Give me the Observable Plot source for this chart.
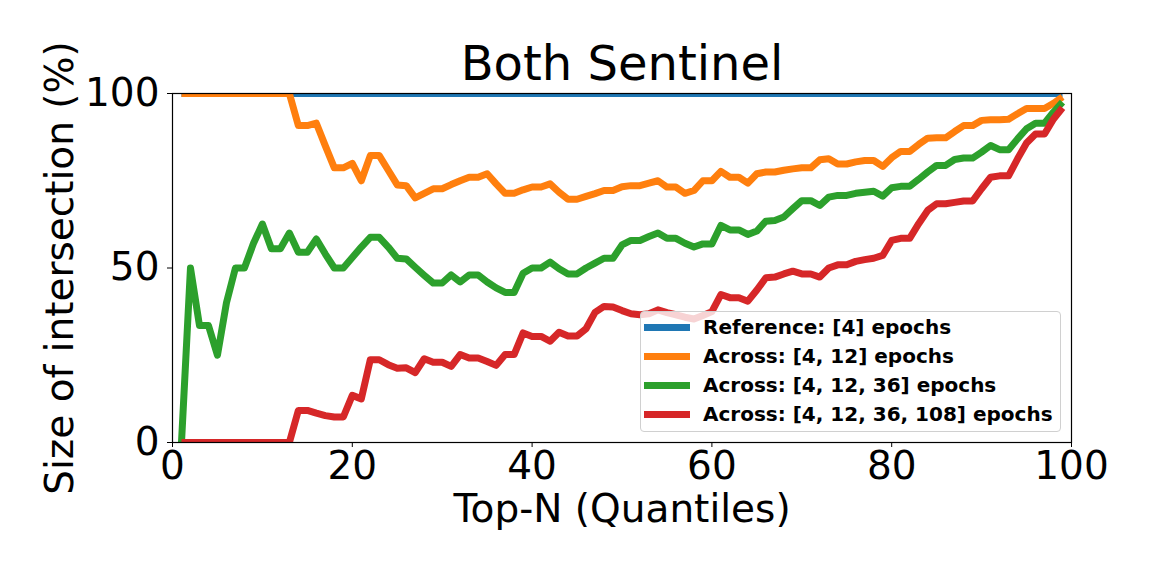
<!DOCTYPE html>
<html><head><meta charset="utf-8">
<script src="https://cdn.jsdelivr.net/npm/d3@7"></script>
<script src="https://cdn.jsdelivr.net/npm/@observablehq/plot@0.6"></script>
<style>
body{margin:0;background:#fff;}
#wrap{position:relative;width:1152px;height:576px;overflow:hidden;}
#legend{position:absolute;left:640px;top:311px;width:421px;height:121px;box-sizing:border-box;border:1px solid #d0d0d0;border-radius:4px;background:rgba(255,255,255,0.8);font-family:"DejaVu Sans";font-weight:bold;font-size:20px;color:#000;}
.row{position:absolute;left:0;height:28px;display:flex;align-items:center;white-space:nowrap;}
.sw{width:46px;height:7px;margin-left:3px;margin-right:13px;}
</style></head>
<body><div id="wrap"></div>
<script>
const titleText = "Both Sentinel";
const xLabel = "Top-N (Quantiles)";
const yLabel = "Size of intersection (%)";
const xTicks = [0, 20, 40, 60, 80, 100];
const yTicks = [0, 50, 100];
const seriesNames = ["Reference: [4] epochs", "Across: [4, 12] epochs", "Across: [4, 12, 36] epochs", "Across: [4, 12, 36, 108] epochs"];
const seriesColors = ["#1f77b4", "#ff7f0e", "#2ca02c", "#d62728"];

const topN = [1,2,3,4,5,6,7,8,9,10,11,12,13,14,15,16,17,18,19,20,21,22,23,24,25,26,27,28,29,30,31,32,33,34,35,36,37,38,39,40,41,42,43,44,45,46,47,48,49,50,51,52,53,54,55,56,57,58,59,60,61,62,63,64,65,66,67,68,69,70,71,72,73,74,75,76,77,78,79,80,81,82,83,84,85,86,87,88,89,90,91,92,93,94,95,96,97,98,99];

const reference = [100,100,100,100,100,100,100,100,100,100,100,100,100,100,100,100,100,100,100,100,100,100,100,100,100,100,100,100,100,100,100,100,100,100,100,100,100,100,100,100,100,100,100,100,100,100,100,100,100,100,100,100,100,100,100,100,100,100,100,100,100,100,100,100,100,100,100,100,100,100,100,100,100,100,100,100,100,100,100,100,100,100,100,100,100,100,100,100,100,100,100,100,100,100,100,100,100,100,100];

const across2 = [100,100,100,100,100,100,100,100,100,100,100,100,100,
  90.8,90.8,91.5,85,78.7,78.7,80,75,82.2,82.2,78,73.8,73.6,70.1,71.4,72.7,72.7,
  73.9,75,76,76,77,74.1,71.4,71.4,72.4,73.2,73.2,74.1,71.7,69.7,69.7,70.5,71.3,72.2,72.2,73.3,
  73.6,73.6,74.3,75,73.2,73.2,71.4,72.2,75,75,77.7,76,76,74.3,77,77.5,77.5,78,78.4,78.7,
  78.7,81,81.3,79.8,79.8,80.4,80.8,80.8,79.1,81.6,83.4,83.4,85.4,87.2,87.3,87.3,89.1,90.8,90.8,92.3,
  92.5,92.5,92.6,94.2,95.7,95.7,95.7,97.2,99];

const across3 = [0,50,33.5,33.5,25,40,50,50,57,62.6,55.5,55.5,60,54.5,54.5,58.3,54,50,50,53,
  56,58.8,58.8,56,52.8,52.6,50.2,47.9,45.7,45.7,48,46,48,48,46,44.3,43,43,48.5,50,
  50,51.7,49.8,48.3,48.3,50,51.4,52.8,52.8,56.6,57.9,57.9,59,60,58.5,58.5,57.1,56,56.9,56.9,
  62.2,60.9,60.9,59.6,60.6,63.4,63.6,64.6,67,69.3,69.3,67.9,70.3,70.8,70.8,71.4,71.7,72,70.6,73,
  73.4,73.4,75.4,77.5,79.4,79.4,81.1,81.5,81.5,83.2,85.1,83.9,83.9,87,89.9,91.5,91.5,94.7,97.5];

const across4 = [0,0,0,0,0,0,0,0,0,0,0,0,0,9.2,9.2,8.4,7.7,7.3,7.3,13.5,
  12.5,23.7,23.7,22.3,21.3,21.4,20,24,23,23,21.8,25.2,24.2,24.2,23.2,22.1,25.2,25.2,31.4,30.4,
  30.4,29,31.6,30.5,30.5,32.6,37.3,39,38.8,37.8,36.9,36.6,36.9,38,37.2,36.6,35.9,35.4,36.4,37.5,
  42.4,41.5,41.5,40.5,43.7,47.2,47.4,48.3,49.1,48.3,48.3,47.4,50,50.9,50.9,51.9,52.4,52.8,53.6,57.9,
  58.5,58.5,62.7,66.5,68.4,68.4,68.8,69.2,69.2,72.7,76,76.4,76.4,81.3,85.8,88.4,88.4,92.7,95.9];

const seriesValues = [reference, across2, across3, across4];
const tables = seriesValues.map((vals, i) => topN.map((n, j) => ({n, v: vals[j], s: seriesNames[i]})));

const plot = Plot.plot({
  width: 1152, height: 576,
  marginLeft: 172, marginRight: 81, marginTop: 93, marginBottom: 134,
  style: {fontFamily: "DejaVu Sans", fontSize: "39px", color: "black", background: "white", overflow: "visible"},
  x: {domain: [0, 100]},
  y: {domain: [0, 100]},
  marks: [
    ...tables.map((t, i) => Plot.line(t, {x: "n", y: "v", stroke: seriesColors[i], strokeWidth: 7, clip: true, strokeLinejoin: "round", strokeLinecap: "butt"})),
    Plot.frame({stroke: "black", strokeWidth: 1.2}),
    Plot.axisX({ticks: xTicks, tickSize: 5, tickPadding: 4, label: null, fontSize: 39}),
    Plot.axisY({ticks: yTicks, tickSize: 5, tickPadding: 8, label: null, fontSize: 39}),
    Plot.text([titleText], {frameAnchor: "top", textAnchor: "middle", lineAnchor: "middle", dy: -29, fontSize: 48}),
    Plot.text([xLabel], {frameAnchor: "bottom", textAnchor: "middle", lineAnchor: "middle", dy: 67, fontSize: 39}),
    Plot.text([yLabel], {frameAnchor: "left", textAnchor: "middle", lineAnchor: "middle", rotate: -90, dx: -112, fontSize: 39})
  ]
});
const wrap = document.getElementById("wrap");
wrap.appendChild(plot);

const legend = document.createElement("div");
legend.id = "legend";
seriesNames.forEach((name, i) => {
  const row = document.createElement("div");
  row.className = "row";
  row.style.top = (1 + i * 29) + "px";
  const sw = document.createElement("div");
  sw.className = "sw";
  sw.style.background = seriesColors[i];
  const tx = document.createElement("span");
  tx.textContent = name;
  row.appendChild(sw); row.appendChild(tx);
  legend.appendChild(row);
});
wrap.appendChild(legend);
</script></body></html>
